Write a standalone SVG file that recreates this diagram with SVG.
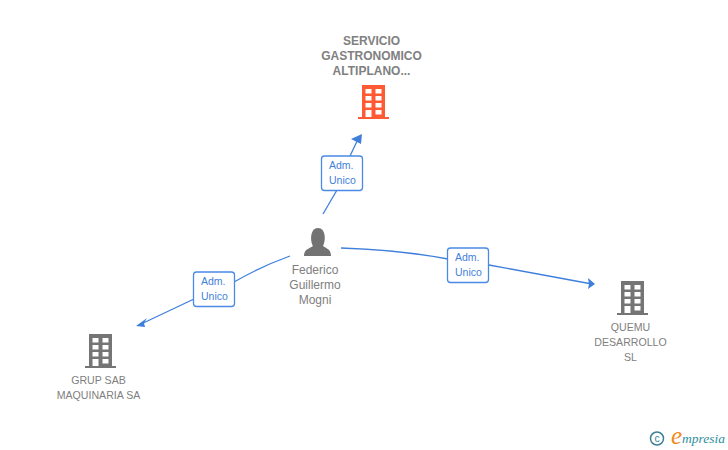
<svg xmlns="http://www.w3.org/2000/svg" width="728" height="450" viewBox="0 0 728 450">
<style>
text{font-family:"Liberation Sans",Arial,sans-serif}
.l{font-size:12px;fill:#808080;text-anchor:middle}
.s{font-size:10.600px}
.b{font-weight:bold}
.e{fill:none;stroke:#3f7fdc;stroke-width:1.300}
.a{fill:#3f7fdc}
.r{fill:#fff;stroke:#4a8ae6;stroke-width:1.300}
.t{font-size:10.500px;fill:#3f7fdc}
</style>
<defs>
<path id="bld" fill-rule="evenodd" d="M4 0H27V32H31V34H0V32H4ZM7.500 4V8.500H13.500V4ZM17.500 4V8.500H23.500V4ZM7.500 11V15.500H13.500V11ZM17.500 11V15.500H23.500V11ZM7.500 18V22.500H13.500V18ZM17.500 18V22.500H23.500V18ZM7.500 25V32H13.500V25ZM17.500 25V29.500H23.500V25Z"/>
</defs>
<rect width="728" height="450" fill="#fff"/>
<g id="connectors">
<path class="e" d="M323 214 L337 190"/><path class="e" d="M350 156 L359 137"/>
<path class="a" d="M362 134 L351 139 L361 144 Z"/>
<path class="e" d="M290 256 Q262 266 234 282"/><path class="e" d="M194 299 L139 325"/>
<path class="a" d="M136 326 L147 318 L144 323 L145 327 Z"/>
<path class="e" d="M341 248 Q400 250 448 259"/><path class="e" d="M489 265 L592 284"/>
<path class="a" d="M595 284 L588 278 L589 284 L588 289 Z"/>
</g>
<g id="node-servicio">
<text class="l b"><tspan x="371.500" y="45">SERVICIO</tspan><tspan x="371.500" y="60">GASTRONOMICO</tspan><tspan x="371.500" y="75">ALTIPLANO...</tspan></text>
<use href="#bld" x="358" y="85" fill="#ff5a33"/>
</g>
<g id="node-federico">
<path fill="#737373" d="M304 256C304 249 309 249 313 246C310 241 310 228 318 228C326 228 326 241 323 246C327 249 331 249 331 256Z"/>
<text class="l"><tspan x="315" y="274">Federico</tspan><tspan x="315" y="289">Guillermo</tspan><tspan x="315" y="304">Mogni</tspan></text>
</g>
<g id="node-grup">
<use href="#bld" x="85" y="334" fill="#757575"/>
<text class="l s"><tspan x="98.500" y="384">GRUP SAB</tspan><tspan x="98.500" y="399">MAQUINARIA SA</tspan></text>
</g>
<g id="node-quemu">
<use href="#bld" x="617" y="281" fill="#757575"/>
<text class="l s"><tspan x="630.500" y="331">QUEMU</tspan><tspan x="630.500" y="346">DESARROLLO</tspan><tspan x="630.500" y="361">SL</tspan></text>
</g>
<g id="label-top">
<rect class="r" x="321.500" y="156" width="41" height="34.500" rx="3"/>
<text class="t"><tspan x="329" y="169">Adm.</tspan><tspan x="329" y="184">Unico</tspan></text>
</g>
<g id="label-left">
<rect class="r" x="193.500" y="272" width="41" height="34.500" rx="3"/>
<text class="t"><tspan x="201" y="285">Adm.</tspan><tspan x="201" y="300">Unico</tspan></text>
</g>
<g id="label-right">
<rect class="r" x="447.500" y="248" width="41" height="34.500" rx="3"/>
<text class="t"><tspan x="455" y="261">Adm.</tspan><tspan x="455" y="276">Unico</tspan></text>
</g>
<g id="logo">
<circle cx="657" cy="438.500" r="6.500" fill="none" stroke="#3d7f95" stroke-width="1.500"/>
<text x="657" y="442" font-size="10.500" fill="#3d7f95" text-anchor="middle">c</text>
<text x="671" y="444" style="font-family:'Liberation Serif',serif;font-style:italic;font-size:25px" fill="#f08a1d">e</text>
<text x="682" y="443" style="font-family:'Liberation Serif',serif;font-style:italic;font-size:13.500px" fill="#2f8f9c">mpresia</text>
</g>
</svg>
